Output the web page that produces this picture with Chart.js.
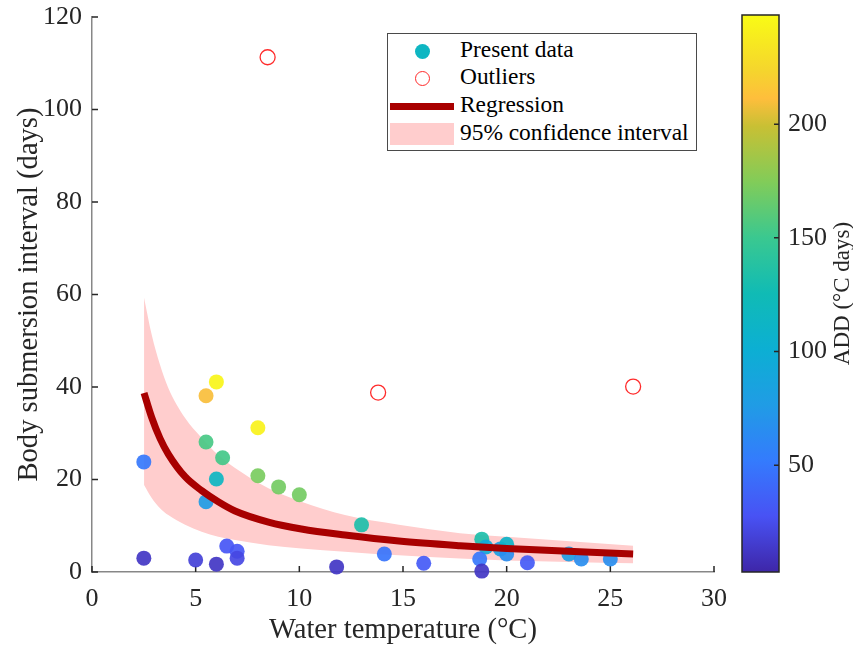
<!DOCTYPE html>
<html>
<head>
<meta charset="utf-8">
<title>Body submersion interval vs water temperature</title>
<script src="https://cdn.jsdelivr.net/npm/chart.js@4.4.1/dist/chart.umd.min.js"></script>
<style>
  html, body { margin: 0; padding: 0; background: #fff; }
  #wrap { position: relative; width: 853px; height: 648px; overflow: hidden; background: #fff; }
  #main { position: absolute; left: 0; top: 0; }
  #cbar { position: absolute; left: 730px; top: 0; }
  #legend {
    position: absolute; left: 387px; top: 33px; width: 310px; height: 118px;
    box-sizing: border-box; border: 1px solid #4a4a4a; background: #fff;
    font-family: "Liberation Serif", "Times New Roman", serif; font-size: 23.4px; color: #000;
  }
  #legend .txt { position: absolute; left: 72px; line-height: 27px; height: 27px; white-space: nowrap; }
  #legend .mk { position: absolute; box-sizing: border-box; }
</style>
</head>
<body>
<div id="wrap">
  <canvas id="main" width="730" height="648"></canvas>
  <canvas id="cbar" width="123" height="648"></canvas>
  <div id="legend"></div>
</div>
<script>
// ---- measured observations ----
const tempC    = [2.5, 2.5, 5.0, 6.0, 6.5, 7.0, 7.0, 5.5, 6.0, 5.5, 6.3, 6.0, 5.5, 8.0, 8.0, 9.0, 10.0, 13.0, 11.8, 14.1, 16.0, 18.8, 19.0, 18.7, 18.8, 19.7, 20.0, 20.0, 21.0, 23.0, 23.6, 25.0];
const interval = [23.8, 3.0, 2.6, 1.7, 5.6, 4.5, 3.0, 38.1, 41.1, 28.1, 24.7, 20.1, 15.2, 31.2, 20.8, 18.4, 16.7, 10.2, 1.1, 3.9, 1.9, 7.1, 5.4, 2.8, 0.2, 5.0, 6.0, 3.9, 2.0, 3.9, 2.8, 2.8];
const addDays  = [50, 12, 18, 12, 30, 30, 22, 210, 244, 155, 153, 115, 77, 242, 172, 170, 170, 133, 12, 48, 32, 133, 95, 50, 12, 80, 110, 65, 32, 78, 66, 66];

// ---- points excluded from the fit ----
const outlierTemp     = [8.47, 13.8, 26.1];
const outlierInterval = [111.3, 38.8, 40.1];

// ---- fitted curve and its 95% band ----
const fitTemp     = [2.51, 2.88, 3.28, 3.68, 4.49, 5.29, 6.09, 6.9, 8.51, 10.1, 12.2, 14.8, 17.75, 20.0, 26.1];
const fitInterval = [38.7, 33.4, 28.9, 25.5, 20.6, 17.6, 15.2, 13.2, 10.8, 9.3, 8.0, 6.7, 5.7, 5.1, 3.9];
const ciUpper     = [59.3, 51.3, 44.8, 39.8, 33.3, 29.0, 25.3, 22.5, 18.1, 15.2, 12.3, 10.2, 8.4, 7.6, 5.7];
const ciLower     = [18.8, 16.0, 13.8, 12.3, 10.2, 8.7, 7.6, 6.9, 5.8, 5.1, 4.4, 3.6, 2.9, 2.5, 1.9];

// ---- colour scale range (ADD, °C days) ----
const addMin = 3;
const addMax = 248;

const SERIF = '"Liberation Serif", "Times New Roman", serif';
const INK = '#262626';

// parula colormap anchors: [t, r, g, b]
const parulaStops = [
  [0.00, 62, 38, 168], [0.10, 72, 82, 244], [0.20, 52, 123, 253], [0.30, 32, 156, 229],
  [0.40, 12, 175, 211], [0.50, 16, 187, 181], [0.60, 58, 200, 144], [0.70, 129, 204, 89],
  [0.80, 200, 192, 52], [0.85, 254, 190, 60], [0.90, 245, 213, 45], [1.00, 249, 251, 21]
];
function parulaRGB(t) {
  t = Math.max(0, Math.min(1, t));
  for (let i = 1; i < parulaStops.length; i++) {
    const a = parulaStops[i - 1], b = parulaStops[i];
    if (t <= b[0]) {
      const f = (t - a[0]) / (b[0] - a[0]);
      return [0, 1, 2].map(k => Math.round(a[k + 1] + f * (b[k + 1] - a[k + 1])));
    }
  }
  const l = parulaStops[parulaStops.length - 1];
  return [l[1], l[2], l[3]];
}
function addColor(v, alpha) {
  const c = parulaRGB((v - addMin) / (addMax - addMin));
  return `rgba(${c[0]},${c[1]},${c[2]},${alpha})`;
}

const pts = (xs, ys) => xs.map((x, i) => ({ x, y: ys[i] }));

// keep the plot box fixed: no extra room reserved for overhanging end labels
const noEdgePadding = s => { s.paddingTop = 0; s.paddingBottom = 0; s.paddingLeft = 0; s.paddingRight = 0; };

// inward tick marks on the main axes
const inwardTicks = {
  id: 'inwardTicks',
  beforeDatasetsDraw(chart) {
    const { ctx, chartArea: a, scales: { x, y } } = chart;
    ctx.save();
    ctx.strokeStyle = INK;
    ctx.lineWidth = 1.5;
    ctx.beginPath();
    x.ticks.forEach(t => { const p = x.getPixelForValue(t.value); ctx.moveTo(p, a.bottom); ctx.lineTo(p, a.bottom - 6); });
    y.ticks.forEach(t => { const p = y.getPixelForValue(t.value); ctx.moveTo(a.left, p); ctx.lineTo(a.left + 6, p); });
    ctx.stroke();
    ctx.restore();
  }
};

const mainChart = new Chart(document.getElementById('main'), {
  type: 'scatter',
  data: {
    datasets: [
      {
        label: 'Regression', legendKind: 'line', type: 'line',
        data: pts(fitTemp, fitInterval),
        borderColor: '#a80000', borderWidth: 7, pointRadius: 0, fill: false,
        cubicInterpolationMode: 'monotone', order: 0
      },
      {
        label: 'Present data', legendKind: 'dot',
        data: pts(tempC, interval),
        backgroundColor: c => addColor(addDays[c.dataIndex], 0.92),
        borderWidth: 0, pointRadius: 7.5, pointHoverRadius: 7.5, clip: false, order: 1
      },
      {
        label: 'Outliers', legendKind: 'ring',
        data: pts(outlierTemp, outlierInterval),
        backgroundColor: 'rgba(255,255,255,0)', borderColor: '#ff2b2b', borderWidth: 1.3,
        pointRadius: 7.5, pointHoverRadius: 7.5, clip: false, order: 2
      },
      {
        label: '95% confidence interval', legendKind: 'patch', type: 'line',
        data: pts(fitTemp, ciUpper),
        borderWidth: 0, borderColor: 'rgba(0,0,0,0)', pointRadius: 0,
        backgroundColor: '#ffcdcd', fill: '+1', cubicInterpolationMode: 'monotone', order: 3
      },
      {
        label: '', type: 'line',
        data: pts(fitTemp, ciLower),
        borderWidth: 0, borderColor: 'rgba(0,0,0,0)', pointRadius: 0, fill: false,
        cubicInterpolationMode: 'monotone', order: 4
      }
    ]
  },
  options: {
    responsive: false, animation: false, devicePixelRatio: 1,
    layout: { padding: { left: 0, top: 17, right: 16, bottom: 0 } },
    plugins: { legend: { display: false }, tooltip: { enabled: false } },
    scales: {
      x: {
        type: 'linear', min: 0, max: 30,
        ticks: { stepSize: 5, padding: 12, color: INK, font: { family: SERIF, size: 26 } },
        grid: { display: false, drawTicks: false },
        border: { display: true, color: '#878787', width: 1.5 },
        title: { display: true, text: 'Water temperature (°C)', color: INK, font: { family: SERIF, size: 28.6 }, padding: { top: 0, bottom: 0 } },
        afterFit: s => { s.height = 76; noEdgePadding(s); }
      },
      y: {
        type: 'linear', min: 0, max: 120,
        ticks: { stepSize: 20, padding: 10, color: INK, font: { family: SERIF, size: 26 } },
        grid: { display: false, drawTicks: false },
        border: { display: true, color: '#878787', width: 1.5 },
        title: { display: true, text: 'Body submersion interval (days)', color: INK, font: { family: SERIF, size: 28.6 }, padding: { top: 12, bottom: 0 } },
        afterFit: s => { s.width = 92; noEdgePadding(s); }
      }
    }
  },
  plugins: [inwardTicks]
});

// legend box built from the chart's labelled datasets
(function buildLegend() {
  const box = document.getElementById('legend');
  const rowTops = [1.6, 28.6, 56.6, 84.6];
  const items = mainChart.data.datasets.filter(d => d.legendKind);
  const orderKinds = ['dot', 'ring', 'line', 'patch'];
  items.sort((a, b) => orderKinds.indexOf(a.legendKind) - orderKinds.indexOf(b.legendKind));
  items.forEach((d, i) => {
    const top = rowTops[i];
    const mid = top + 15.5;
    const mk = document.createElement('div');
    mk.className = 'mk';
    if (d.legendKind === 'dot') {
      Object.assign(mk.style, { left: '26.5px', top: (mid - 7.5) + 'px', width: '15px', height: '15px', borderRadius: '50%', background: addColor(115, 1) });
    } else if (d.legendKind === 'ring') {
      Object.assign(mk.style, { left: '26.5px', top: (mid - 7.5) + 'px', width: '15px', height: '15px', borderRadius: '50%', border: '1.3px solid ' + d.borderColor });
    } else if (d.legendKind === 'line') {
      Object.assign(mk.style, { left: '2px', top: (mid - 3.5) + 'px', width: '64px', height: '7px', background: d.borderColor });
    } else {
      Object.assign(mk.style, { left: '2px', top: (mid - 11) + 'px', width: '64px', height: '22px', background: d.backgroundColor });
    }
    box.appendChild(mk);
    const t = document.createElement('div');
    t.className = 'txt';
    t.style.top = top + 'px';
    t.textContent = d.label;
    box.appendChild(t);
  });
})();

// colour bar for ADD
const colorbarPainter = {
  id: 'colorbarPainter',
  beforeDraw(chart) {
    const { ctx, chartArea: a, scales: { y } } = chart;
    const yLo = y.getPixelForValue(addMin), yHi = y.getPixelForValue(addMax);
    const g = ctx.createLinearGradient(0, yLo, 0, yHi);
    parulaStops.forEach(s => g.addColorStop(s[0], `rgb(${s[1]},${s[2]},${s[3]})`));
    ctx.save();
    ctx.fillStyle = g;
    ctx.fillRect(a.left, yHi, a.right - a.left, yLo - yHi);
    ctx.strokeStyle = INK;
    ctx.lineWidth = 1.5;
    ctx.strokeRect(a.left, yHi, a.right - a.left, yLo - yHi);
    ctx.beginPath();
    y.ticks.forEach(t => { const p = y.getPixelForValue(t.value); ctx.moveTo(a.right, p); ctx.lineTo(a.right - 5, p); });
    ctx.stroke();
    // axis title, reading bottom-to-top
    ctx.translate(113, (a.top + a.bottom) / 2);
    ctx.rotate(-Math.PI / 2);
    ctx.fillStyle = INK;
    ctx.font = `23px ${SERIF}`;
    ctx.textAlign = 'center';
    ctx.textBaseline = 'middle';
    ctx.fillText('ADD (°C days)', 0, 0);
    ctx.restore();
  }
};

new Chart(document.getElementById('cbar'), {
  type: 'scatter',
  data: { datasets: [] },
  options: {
    responsive: false, animation: false, devicePixelRatio: 1,
    layout: { padding: { left: 12, top: 15, right: 0, bottom: 76 } },
    plugins: { legend: { display: false }, tooltip: { enabled: false } },
    scales: {
      x: { display: false, min: 0, max: 1 },
      y: {
        position: 'right', min: addMin, max: addMax,
        ticks: { stepSize: 50, includeBounds: false, padding: 9, color: INK, font: { family: SERIF, size: 26 } },
        grid: { display: false, drawTicks: false },
        border: { display: false },
        afterFit: s => { s.width = 74; noEdgePadding(s); }
      }
    }
  },
  plugins: [colorbarPainter]
});
</script>
</body>
</html>
